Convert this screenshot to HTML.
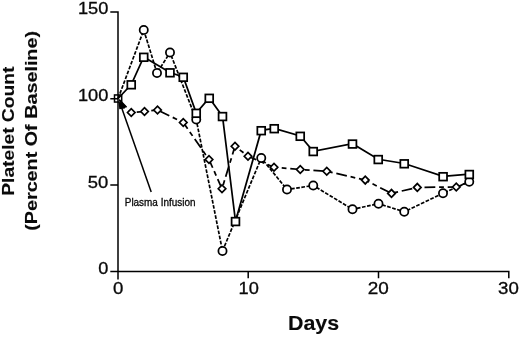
<!DOCTYPE html>
<html><head><meta charset="utf-8"><title>Platelet Count</title>
<style>
html,body{margin:0;padding:0;background:#fff;}
body{width:520px;height:337px;overflow:hidden;}
svg{display:block;}
text{font-family:"Liberation Sans",sans-serif;fill:#0a0a0a;stroke:#0a0a0a;stroke-width:0.3px;}
.t{font-size:16.5px;}
.b{font-weight:bold;stroke-width:0.12px;}
</style></head><body>
<svg width="520" height="337" viewBox="0 0 520 337">
<rect width="520" height="337" fill="#fff"/>
<g fill="none" stroke="#000" stroke-width="1.5">

<path d="M118,11.2V279.4 M110.3,271.6H509.5 M110.3,11.9H118 M110.3,98.7H118 M110.3,185H118 M248.2,271.6V278.2 M378.5,271.6V278.2 M508.8,270.85V278.2"/>
<polyline points="118.1,98.5 131.25,112.5 144.5,111.5 157.5,110 183.25,122.5 209,159.5 222,188.75 235,146.25 248,156.25 274,167.25 300.25,169.5 326.75,171.25 365.25,180.1 391.5,193.4 417.3,187.4 456.25,187 469.25,181.75" stroke-dasharray="10.8 3.8 4.8 3.8" stroke-dashoffset="21.7" stroke-width="1.75"/>
<polyline points="118.1,98.5 143.75,30 157,73 170,52.5 196.25,119.6 222.5,251 261.25,158 287,189.5 313.25,185.5 352.5,209.25 378.5,203.7 404.25,211.75 443,193.25 469.25,181.75" stroke-dasharray="3.7 1.5" stroke-width="1.7"/>
<polyline points="118.1,98.5 131.25,84.5 143.75,57 170,72.5 183.25,77 196.25,113 209.25,98 222.5,116.25 235.5,221.25 261.25,130.4 274.25,128.4 300.25,136 313.25,151.25 352.5,143.75 378.25,159.25 404.25,163.5 443.1,176.4 469.3,174.2" stroke-width="1.75"/>
<path d="M151.2,192L121.2,106.5"/>
</g>
<path d="M118.5,102.2L121.8,102.2L125.6,105.8L124.8,108.4L119.3,109.3Z" fill="#000"/>
<g fill="#fff" stroke="#000" stroke-width="1.75">
<path d="M127.5,112.5L131.25,108.65L135.0,112.5L131.25,116.35Z"/>
<path d="M140.75,111.5L144.5,107.65L148.25,111.5L144.5,115.35Z"/>
<path d="M153.75,110L157.5,106.15L161.25,110L157.5,113.85Z"/>
<path d="M179.5,122.5L183.25,118.65L187.0,122.5L183.25,126.35Z"/>
<path d="M205.25,159.5L209,155.65L212.75,159.5L209,163.35Z"/>
<path d="M218.25,188.75L222,184.9L225.75,188.75L222,192.6Z"/>
<path d="M231.25,146.25L235,142.4L238.75,146.25L235,150.1Z"/>
<path d="M244.25,156.25L248,152.4L251.75,156.25L248,160.1Z"/>
<path d="M270.25,167.25L274,163.4L277.75,167.25L274,171.1Z"/>
<path d="M296.5,169.5L300.25,165.65L304.0,169.5L300.25,173.35Z"/>
<path d="M323.0,171.25L326.75,167.4L330.5,171.25L326.75,175.1Z"/>
<path d="M361.5,180.1L365.25,176.25L369.0,180.1L365.25,183.95Z"/>
<path d="M387.75,193.4L391.5,189.55L395.25,193.4L391.5,197.25Z"/>
<path d="M413.55,187.4L417.3,183.55L421.05,187.4L417.3,191.25Z"/>
<path d="M452.5,187L456.25,183.15L460.0,187L456.25,190.85Z"/>
<circle cx="143.75" cy="30" r="4.1"/>
<circle cx="157" cy="73" r="4.1"/>
<circle cx="170" cy="52.5" r="4.1"/>
<circle cx="196.25" cy="119.6" r="4.1"/>
<circle cx="222.5" cy="251" r="4.1"/>
<circle cx="261.25" cy="158" r="4.1"/>
<circle cx="287" cy="189.5" r="4.1"/>
<circle cx="313.25" cy="185.5" r="4.1"/>
<circle cx="352.5" cy="209.25" r="4.1"/>
<circle cx="378.5" cy="203.7" r="4.1"/>
<circle cx="404.25" cy="211.75" r="4.1"/>
<circle cx="443" cy="193.25" r="4.1"/>
<circle cx="469.25" cy="181.75" r="4.1"/>
<rect x="114.5" y="94.95" width="7.2" height="7.1" fill="none" stroke-width="1.5"/>
<rect x="127.35" y="80.95" width="7.8" height="7.7"/>
<rect x="139.85" y="53.45" width="7.8" height="7.7"/>
<rect x="166.1" y="68.95" width="7.8" height="7.7"/>
<rect x="179.35" y="73.45" width="7.8" height="7.7"/>
<rect x="192.35" y="109.45" width="7.8" height="7.7"/>
<rect x="205.35" y="94.45" width="7.8" height="7.7"/>
<rect x="218.6" y="112.7" width="7.8" height="7.7"/>
<rect x="231.6" y="217.7" width="7.8" height="7.7"/>
<rect x="257.35" y="126.85000000000001" width="7.8" height="7.7"/>
<rect x="270.35" y="124.85000000000001" width="7.8" height="7.7"/>
<rect x="296.35" y="132.45" width="7.8" height="7.7"/>
<rect x="309.35" y="147.7" width="7.8" height="7.7"/>
<rect x="348.6" y="140.2" width="7.8" height="7.7"/>
<rect x="374.35" y="155.7" width="7.8" height="7.7"/>
<rect x="400.35" y="159.95" width="7.8" height="7.7"/>
<rect x="439.20000000000005" y="172.85" width="7.8" height="7.7"/>
<rect x="465.40000000000003" y="170.64999999999998" width="7.8" height="7.7"/>
</g>
<text transform="translate(77.9,14.0) scale(1.1402,1)" font-size="16">150</text>
<text transform="translate(77.9,100.6) scale(1.1402,1)" font-size="16">100</text>
<text transform="translate(87.75,187.5) scale(1.1515,1)" font-size="16">50</text>
<text transform="translate(98.25,274.25) scale(1.1333,1)" font-size="16">0</text>
<text transform="translate(113.0,294.4) scale(1.129,1)" font-size="16.5">0</text>
<text transform="translate(238.5,294.4) scale(1.1063,1)" font-size="16.5">10</text>
<text transform="translate(367.75,294.1) scale(1.1472,1)" font-size="16.5">20</text>
<text transform="translate(498.0,294.0) scale(1.1325,1)" font-size="16.5">30</text>
<text transform="translate(287.9,329.5) scale(1.0209,1)" font-size="21" class="b">Days</text>
<text transform="translate(124.75,206.0) scale(0.9754,1)" font-size="10.2">Plasma Infusion</text>
<text transform="translate(14.3,195.75) rotate(-90) scale(1.1438,1)" font-size="16.8" class="b">Platelet Count</text>
<text transform="translate(36.6,230.8) rotate(-90) scale(1.1771,1)" font-size="16.8" class="b">(Percent Of Baseline)</text>
</svg></body></html>
